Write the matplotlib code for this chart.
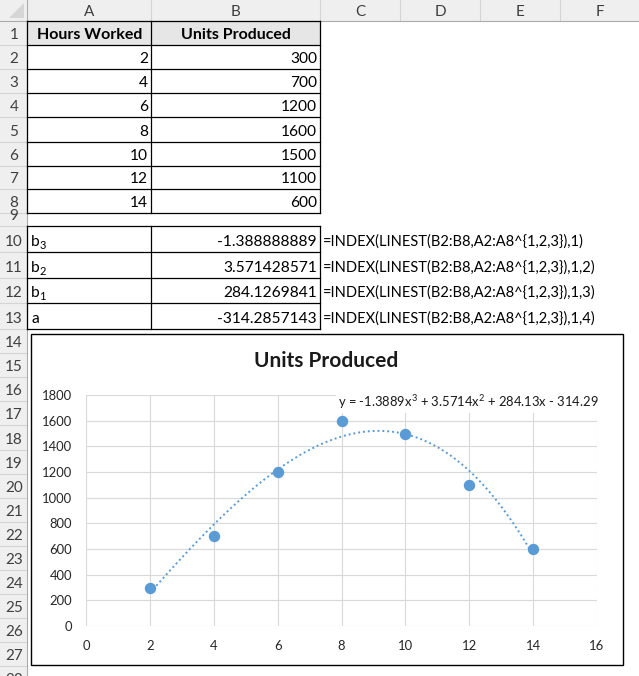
import numpy as np
import matplotlib.pyplot as plt
from matplotlib.patches import Rectangle, Polygon

# sheet data
hours = [2, 4, 6, 8, 10, 12, 14]
units = [300, 700, 1200, 1600, 1500, 1100, 600]
col_letters = ["A", "B", "C", "D", "E", "F"]
header_labels = ["Hours Worked", "Units Produced"]
coef_names = [("b", "3"), ("b", "2"), ("b", "1"), ("a", "")]
formula_idx = [1, 2, 3, 4]
x_ticks = [0, 2, 4, 6, 8, 10, 12, 14, 16]
y_ticks = [0, 200, 400, 600, 800, 1000, 1200, 1400, 1600, 1800]
chart_title = "Units Produced"

FONT = ["Lato", "DejaVu Sans"]
BLUE = "#5B9BD5"
W, H = 639, 676

plt.rcParams["mathtext.fontset"] = "custom"
plt.rcParams["mathtext.rm"] = "Lato"
plt.rcParams["mathtext.it"] = "Lato:italic"
plt.rcParams["mathtext.default"] = "rm"

# cubic fit, like LINEST(B2:B8, A2:A8^{1,2,3})
coefs = np.polyfit(hours, units, 3)

fig = plt.figure(figsize=(W / 100, H / 100), dpi=100)
bg = fig.add_axes([0, 0, 1, 1])
bg.set_xlim(0, W)
bg.set_ylim(H, 0)
bg.axis("off")

col_edges = [27, 151, 320, 400, 480, 560, 640]
row_edges = [21, 45, 69, 93, 117, 142, 166, 189, 213, 226, 252, 278, 303, 329]
row_edges += [round(329 + 24.1 * k) for k in range(1, 16)]

# headers
bg.add_patch(Rectangle((0, 0), W, 21, fc="#EFEFEF", ec="none"))
bg.add_patch(Rectangle((0, 0), 27, H, fc="#EFEFEF", ec="none"))
bg.add_patch(Polygon([(9, 18), (24, 18), (24, 3)], closed=True, fc="#D6D6D6", ec="none"))
for i, letter in enumerate(col_letters):
    x0, x1 = col_edges[i], col_edges[i + 1]
    bg.plot([x1, x1], [0, 21], color="#D4D4D4", lw=0.8)
    bg.text((x0 + x1) / 2, 16, letter, ha="center", va="baseline",
            fontsize=11, color="#3F3F3F", family=FONT)
for r in range(len(row_edges) - 1):
    y0, y1 = row_edges[r], row_edges[r + 1]
    bg.plot([0, 27], [y1, y1], color="#D4D4D4", lw=0.8)
    t = bg.text(14, y1 - 6, str(r + 1), ha="center", va="baseline",
                fontsize=11, color="#3F3F3F", family=FONT)
    t.set_clip_path(Rectangle((0, y0), 27, y1 - y0, transform=bg.transData))
bg.plot([0, W], [21, 21], color="#ABABAB", lw=0.8)
bg.plot([27, 27], [0, H], color="#ABABAB", lw=0.8)

# table 1
bg.add_patch(Rectangle((27, 21), 293, 24, fc="#E7E6E6", ec="none"))
for y in row_edges[0:9]:
    bg.plot([27, 320], [y, y], color="black", lw=0.9)
for x in [27, 151, 320]:
    bg.plot([x, x], [21, 213], color="black", lw=0.9)
bg.text(90, 39, header_labels[0], ha="center", va="baseline", fontsize=11.5,
        fontweight="bold", family=FONT)
bg.text(236, 39, header_labels[1], ha="center", va="baseline", fontsize=11.5,
        fontweight="bold", family=FONT)
for i, (h, u) in enumerate(zip(hours, units)):
    yb = row_edges[i + 2] - 6
    bg.text(148, yb, str(h), ha="right", va="baseline", fontsize=11.2, family=FONT)
    bg.text(317, yb, str(u), ha="right", va="baseline", fontsize=11.2, family=FONT)

# table 2: coefficients
for y in row_edges[9:14]:
    bg.plot([27, 320], [y, y], color="black", lw=0.9)
for x in [27, 151, 320]:
    bg.plot([x, x], [226, 329], color="black", lw=0.9)
for i, ((name, sub), val, k) in enumerate(zip(coef_names, coefs, formula_idx)):
    yb = row_edges[i + 10] - 6
    bg.text(31, yb, name, ha="left", va="baseline", fontsize=11.2, family=FONT)
    if sub:
        bg.text(39.5, yb + 3, sub, ha="left", va="baseline", fontsize=8, family=FONT)
    bg.text(317, yb, f"{val:.10g}", ha="right", va="baseline", fontsize=11.2, family=FONT)
    formula = "=INDEX(LINEST(B2:B8,A2:A8^{1,2,3}),1" + (f",{k})" if k > 1 else ")")
    bg.text(323, yb, formula, ha="left", va="baseline", fontsize=10.5, family=FONT)

# chart frame
bg.add_patch(Rectangle((31, 334), 592, 331, fc="white", ec="black", lw=1.0))
bg.text(326, 361, chart_title, ha="center", va="center", fontsize=15,
        fontweight="bold", color="#1A1A1A", family=FONT)

ax = fig.add_axes([86 / W, (H - 626) / H, (597 - 86) / W, (626 - 395) / H])
ax.set_xlim(0, 16)
ax.set_ylim(0, 1800)
ax.set_xticks(x_ticks)
ax.set_yticks(y_ticks)
ax.grid(True, color="#D9D9D9", lw=0.8)
ax.set_axisbelow(True)
for s in ax.spines.values():
    s.set_visible(False)
ax.tick_params(length=0, labelsize=9.4, labelcolor="#262626", pad=10)
for lab in ax.get_xticklabels() + ax.get_yticklabels():
    lab.set_family(FONT)
ax.patch.set_alpha(0)

xs = np.linspace(min(hours), max(hours), 200)
ax.plot(xs, np.polyval(coefs, xs), color=BLUE, lw=1.4, dashes=(1, 1.5),
        dash_capstyle="butt", zorder=2)
ax.plot(hours, units, "o", color=BLUE, ms=7.2, mec=BLUE, zorder=3, clip_on=False)

# trendline label, white box over the gridlines
eq = (f"y = {coefs[0]:.5g}x$^3$ + {coefs[1]:.5g}x$^2$ + {coefs[2]:.5g}x - "
      f"{abs(coefs[3]):.5g}")
fig.text(338 / W, 1 - 402 / H, eq, ha="left", va="center", fontsize=9.4,
         color="#1A1A1A", family=FONT, zorder=5,
         bbox=dict(fc="white", ec="none", pad=1.5))

fig.savefig("out.png", dpi=100)
